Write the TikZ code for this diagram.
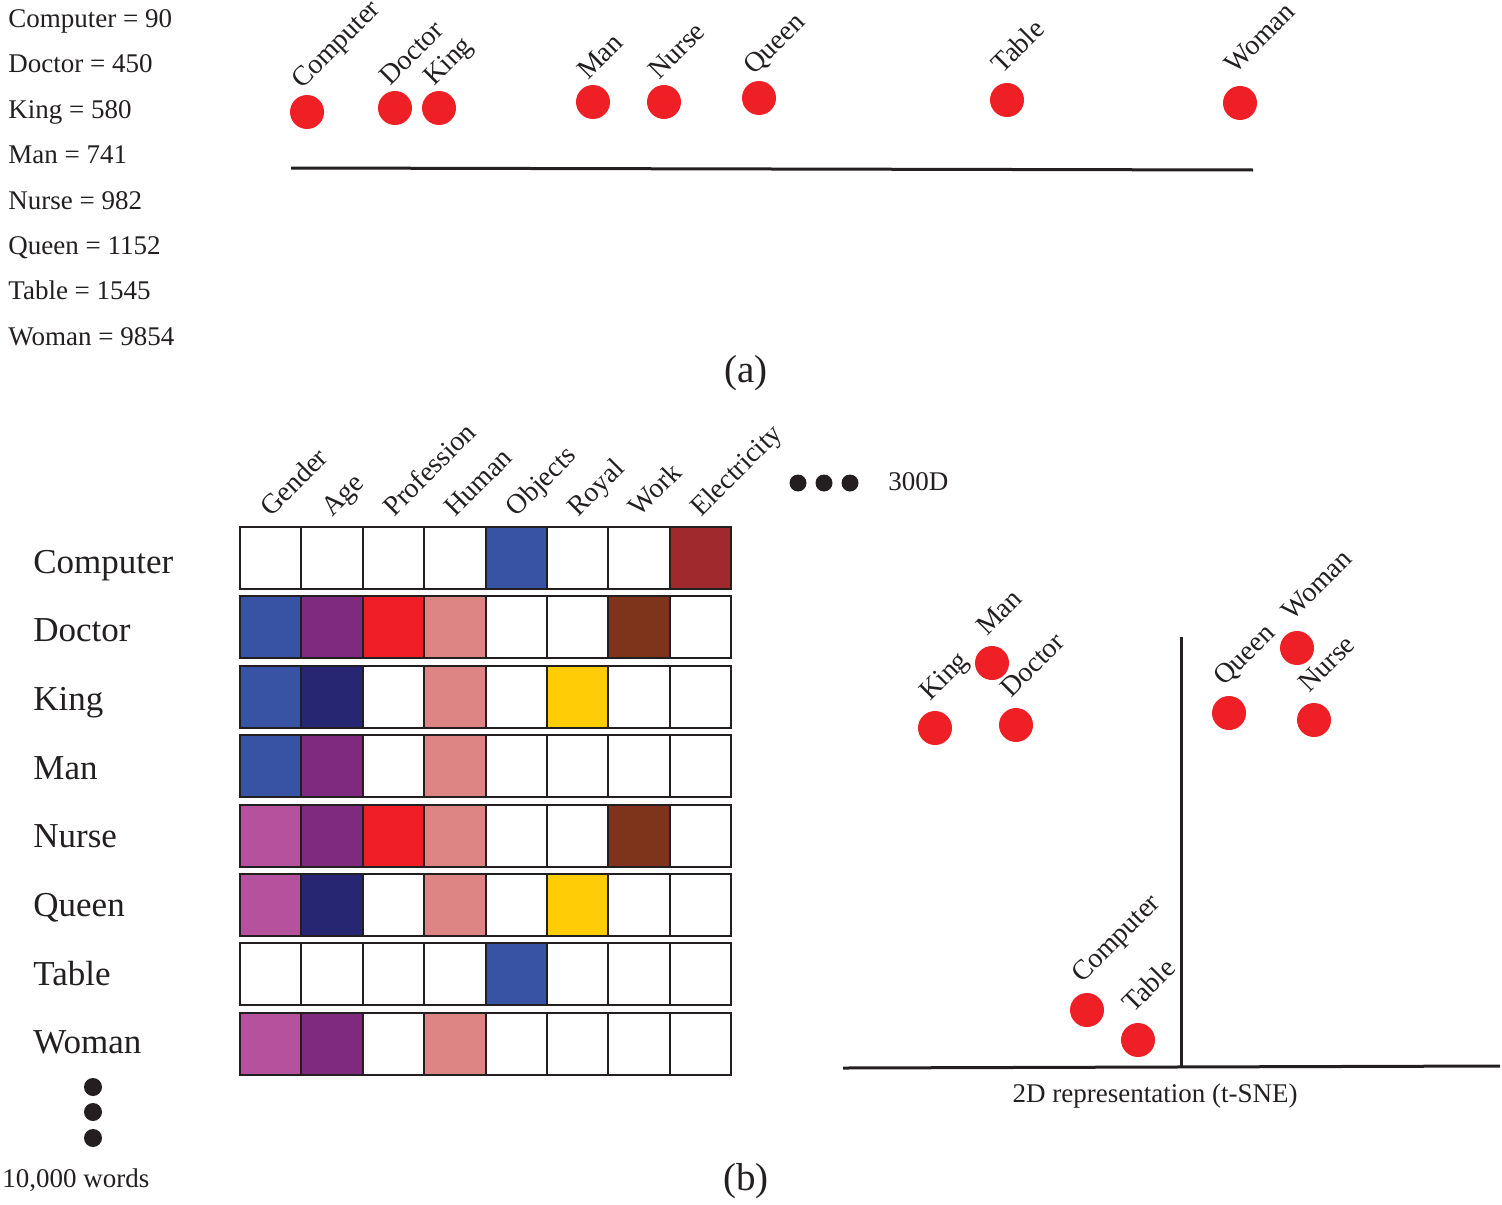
\documentclass[tikz,border=0pt]{standalone}
\usepackage{fontspec}
\setmainfont{Liberation Serif}
\definecolor{ink}{HTML}{231F20}
\definecolor{dotred}{HTML}{EE1F25}
\definecolor{cB}{HTML}{3953A4}
\definecolor{cP}{HTML}{7F2A7F}
\definecolor{cR}{HTML}{EE1F25}
\definecolor{cK}{HTML}{DD8585}
\definecolor{cBr}{HTML}{7E331B}
\definecolor{cDR}{HTML}{A0292D}
\definecolor{cN}{HTML}{272672}
\definecolor{cY}{HTML}{FFCC05}
\definecolor{cM}{HTML}{B6519E}
\newcommand\szBase{\fontsize{13.5}{16}\selectfont}
\newcommand\szRot{\fontsize{14}{17}\selectfont}
\newcommand\szRow{\fontsize{17.5}{20}\selectfont}
\newcommand\szCap{\fontsize{19.5}{22}\selectfont}
\begin{document}
\begin{tikzpicture}[x=0.5pt,y=-0.5pt,
  every node/.style={text=ink},
  reddot/.style={circle,fill=dotred,minimum size=17pt,inner sep=0pt},
  blackdot/.style={circle,fill=ink,minimum size=8.5pt,inner sep=0pt},
  rotlab/.style={rotate=45,anchor=base west,inner sep=0pt,font=\szRot},
  listlab/.style={anchor=base west,inner sep=0pt,font=\szBase},
  rowlab/.style={anchor=base west,inner sep=0pt,font=\szRow},
  axisline/.style={draw=ink,line width=1.5pt},
  cell/.style={draw=ink,line width=1pt}
]
\useasboundingbox (0,0) rectangle (1502,1204);

% ---------- (a) ----------
\foreach \w [count=\i from 0] in {Computer = 90,Doctor = 450,King = 580,Man = 741,Nurse = 982,Queen = 1152,Table = 1545,Woman = 9854}
  \node[listlab] (list\i) at (8,{27.5+45.4*\i}) {\w};

\foreach \w/\x/\y/\dy in {Computer/307/112/-22,Doctor/395/108/-21,King/439/108/-21,Man/593/102/-21,Nurse/664/102/-21,Queen/759/98/-22,Table/1007/100/-25,Woman/1240/103/-28}{
  \node[reddot] (ta\w) at (\x,\y) {};
  \node[rotlab] (tl\w) at ([shift={(-5,\dy)}]ta\w.center) {\w};
}
\coordinate (lineA) at (291,168);
\coordinate (lineB) at (1253,170);
\draw[axisline] (lineA) -- (lineB);
\node[font=\szCap] (capa) at (746,373) {(a)};

% ---------- (b) ----------
\foreach \h [count=\k from 0] in {Gender,Age,Profession,Human,Objects,Royal,Work,Electricity}
  \node[rotlab] (hd\k) at ({240+61.4*\k+31},518) {\h};

\foreach \x [count=\k] in {798,824,850}
  \node[blackdot] (hdot\k) at (\x,483) {};
\node[anchor=west,inner sep=0pt,font=\szBase] (dimlab) at (888,482) {300D};

\foreach \lab/\cols [count=\r from 0] in {
  Computer/{white,white,white,white,cB,white,white,cDR},
  Doctor/{cB,cP,cR,cK,white,white,cBr,white},
  King/{cB,cN,white,cK,white,cY,white,white},
  Man/{cB,cP,white,cK,white,white,white,white},
  Nurse/{cM,cP,cR,cK,white,white,cBr,white},
  Queen/{cM,cN,white,cK,white,cY,white,white},
  Table/{white,white,white,white,cB,white,white,white},
  Woman/{cM,cP,white,cK,white,white,white,white}}{
  \node[rowlab] (row\r) at (33,{573+68.7*\r}) {\lab};
  \foreach \c [count=\k from 0] in \cols
    \filldraw[cell,fill=\c] ({240+61.4*\k},{527+69.4*\r}) rectangle ++(61.4,62);
}

\foreach \y [count=\k] in {1087,1112,1138}
  \node[blackdot,minimum size=9pt] (vdot\k) at (93,\y) {};
\node[anchor=west,inner sep=0pt,font=\szBase] (wordslab) at (2,1180) {10,000 words};
\node[font=\szCap] (capb) at (746,1181) {(b)};

% t-SNE panel
\coordinate (hx1) at (843,1068);
\coordinate (hx2) at (1500,1066);
\coordinate (vy1) at (1181,637);
\coordinate (vy2) at (1181,1067);
\draw[axisline] (hx1) -- (hx2);
\draw[axisline] (vy1) -- (vy2);

\foreach \w/\x/\y in {King/935/728,Man/992/663,Doctor/1016/725,Queen/1229/713,Woman/1297/648,Nurse/1314/720,Computer/1087/1010,Table/1138/1040}{
  \node[reddot] (ts\w) at (\x,\y) {};
  \node[rotlab] (tsl\w) at ([shift={(-5,-26)}]ts\w.center) {\w};
}
\node[font=\szBase] (tsnelab) at (1155,1096) {2D representation (t-SNE)};
\end{tikzpicture}
\end{document}
